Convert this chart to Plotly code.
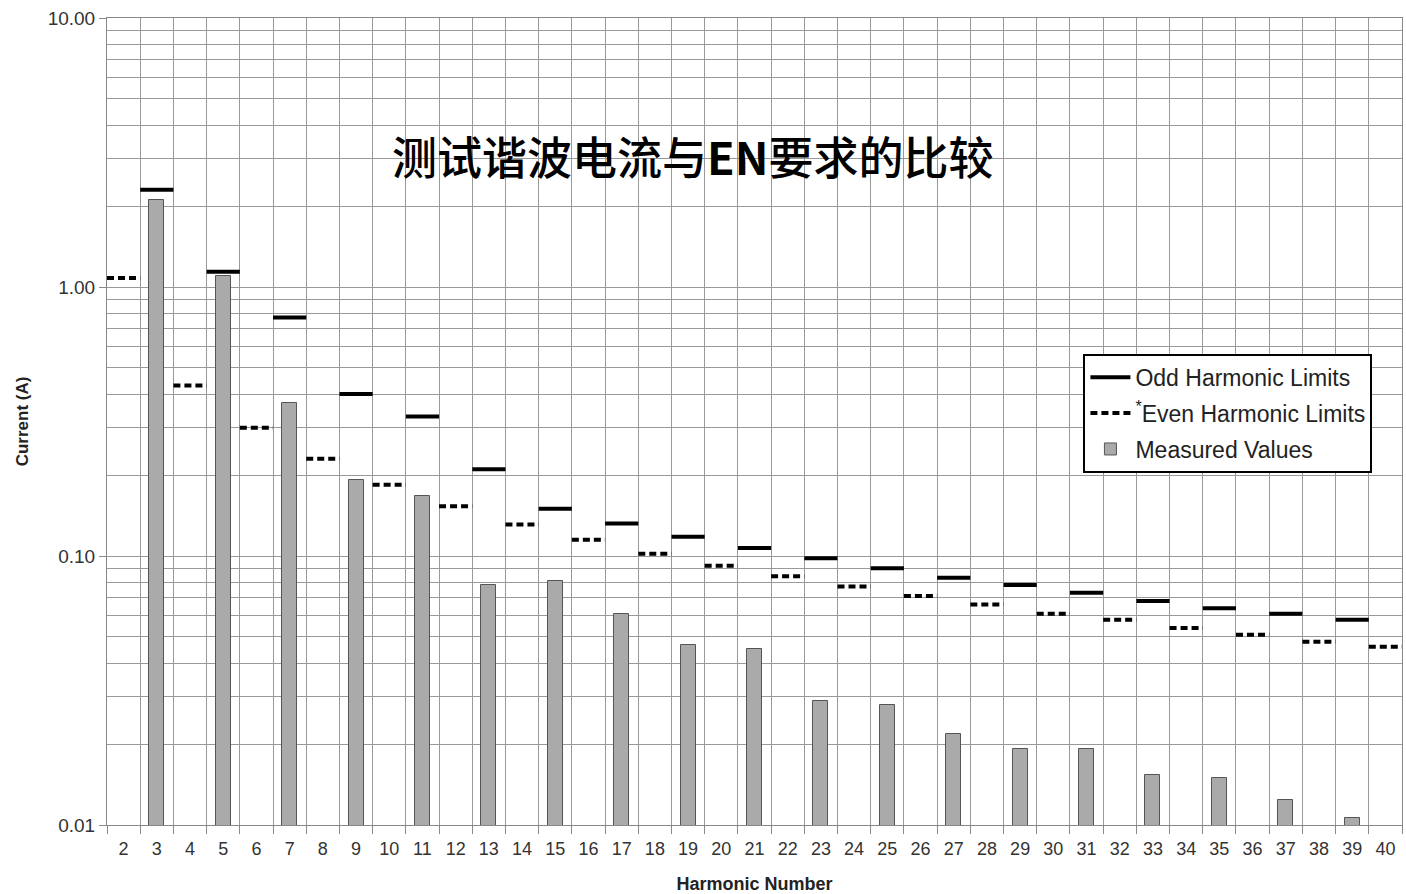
import plotly.graph_objects as go

harmonics = list(range(2, 41))
odd_n = [3, 5, 7, 9, 11, 13, 15, 17, 19, 21, 23, 25, 27, 29, 31, 33, 35, 37, 39]
odd_limits = [2.30, 1.14, 0.77, 0.40, 0.33, 0.21, 0.15, 0.132, 0.118, 0.107, 0.098,
              0.090, 0.083, 0.078, 0.073, 0.068, 0.064, 0.061, 0.058]
even_n = [2, 4, 6, 8, 10, 12, 14, 16, 18, 20, 22, 24, 26, 28, 30, 32, 34, 36, 38, 40]
even_limits = [1.08, 0.43, 0.30, 0.23, 0.184, 0.153, 0.131, 0.115, 0.102, 0.092,
               0.084, 0.077, 0.071, 0.066, 0.061, 0.058, 0.054, 0.051, 0.048, 0.046]
measured = [2.10, 1.10, 0.37, 0.192, 0.167, 0.078, 0.081, 0.061, 0.0467, 0.0451,
            0.0289, 0.0279, 0.0218, 0.0192, 0.0192, 0.0153, 0.0150, 0.0124, 0.0106]
y_ticks = [0.01, 0.1, 1, 10]
y_ticktext = ["0.01", "0.10", "1.00", "10.00"]


def segments(ns, vals):
    xs, ys = [], []
    for n, v in zip(ns, vals):
        xs += [n - 0.5, n + 0.5, None]
        ys += [v, v, None]
    return xs, ys


fig = go.Figure()
fig.add_trace(go.Bar(x=odd_n, y=measured, width=0.45, name="Measured Values",
                     legendgroup="c", legendrank=3,
                     marker=dict(color="#aaaaaa", line=dict(color="#555555", width=1))))
ox, oy = segments(odd_n, odd_limits)
fig.add_trace(go.Scatter(x=ox, y=oy, mode="lines", name="Odd Harmonic Limits",
                         legendgroup="a", legendrank=1,
                         line=dict(color="black", width=4)))
ex, ey = segments(even_n, even_limits)
fig.add_trace(go.Scatter(x=ex, y=ey, mode="lines", name="<sup>*</sup>Even Harmonic Limits",
                         legendgroup="b", legendrank=2,
                         line=dict(color="black", width=4, dash="7px,4px")))

minor_y = []
for d in [0.01, 0.1, 1]:
    for k in range(2, 10):
        minor_y.append(round(d * k, 4))

fig.update_layout(
    width=1406, height=894,
    margin=dict(l=107, r=4, t=18, b=69),
    paper_bgcolor="white", plot_bgcolor="white",
    font=dict(family="Liberation Sans, Arial", color="#333333"),
    showlegend=True,
    legend=dict(x=0.754, y=0.584, xanchor="left", yanchor="top",
                bgcolor="white", bordercolor="black", borderwidth=2,
                font=dict(size=23, color="#222222"), traceorder="grouped",
                tracegroupgap=3, itemwidth=40),
    bargap=0,
    annotations=[dict(text="测试谐波电流与<b>EN</b>要求的比较", x=0.452, y=0.83,
                      xref="paper", yref="paper", showarrow=False,
                      xanchor="center", yanchor="middle",
                      font=dict(family="Noto Sans CJK SC", size=45, color="black",
                                weight=500))],
)
fig.update_xaxes(
    range=[1.5, 40.5], tickvals=harmonics, ticktext=[str(h) for h in harmonics],
    ticks="", showgrid=False, showline=True, linecolor="#888888", mirror=True,
    tickfont=dict(size=18, color="#333333"), automargin=False, ticklabelstandoff=7,
    minor=dict(tickvals=[h + 0.5 for h in range(1, 41)], ticks="outside", ticklen=8,
               tickcolor="#888888", showgrid=True, gridcolor="#999999", gridwidth=1),
    title=dict(text="<b>Harmonic Number</b>", font=dict(size=18, color="#222222"), standoff=27),
    zeroline=False,
)
fig.update_yaxes(
    type="log", range=[-2, 1], tickvals=y_ticks, ticktext=y_ticktext,
    ticks="outside", ticklen=7, tickcolor="#888888",
    showgrid=True, gridcolor="#999999", gridwidth=1,
    showline=True, linecolor="#888888", mirror=True,
    tickfont=dict(size=19, color="#333333"), automargin=False,
    minor=dict(tickvals=minor_y, showgrid=True, gridcolor="#999999", gridwidth=1, ticks=""),
    title=dict(text="<b>Current (A)</b>", font=dict(size=17, color="#222222"), standoff=14),
)

fig.write_html("out.html", config={"displayModeBar": False},
               post_script="document.body.style.margin='0';")
